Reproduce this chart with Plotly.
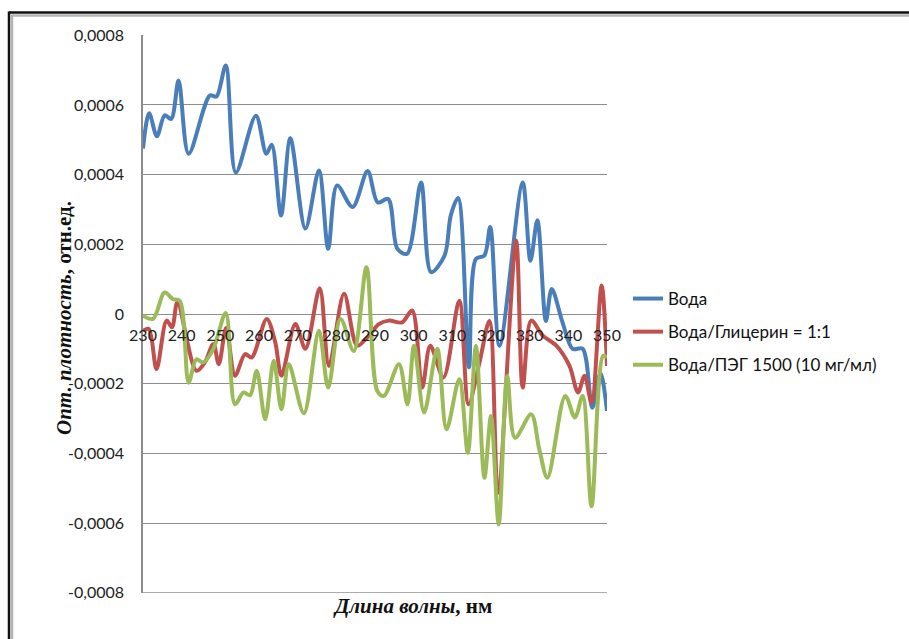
import plotly.graph_objects as go

# Wavelength (nm) and optical density readings for each sample
voda_x = [230, 231.6, 233.6, 235.6, 237.3, 239.2, 241.8, 247.3, 249, 251.4, 254, 259.2,
          261.9, 263.3, 265.7, 268.1, 272, 275.5, 277.9, 280.2, 284.2, 288.1, 290.7,
          293.4, 295.8, 298.3, 301.9, 304.5, 308, 309.6, 311.5, 314.3, 316.1, 318.3,
          319.8, 322.2, 328.2, 330.2, 332, 334.2, 335.7, 338.5, 341.1, 343.7, 346.2,
          348.3, 350]
voda_y = [0.000475, 0.000576, 0.00051, 0.00057, 0.00056, 0.00067, 0.00046, 0.000627,
          0.000624, 0.000713, 0.000406, 0.000569, 0.00046, 0.000486, 0.000283, 0.000504,
          0.000245, 0.000412, 0.000187, 0.000369, 0.000307, 0.00041, 0.00032, 0.00033,
          0.000187, 0.000173, 0.000377, 0.00012, 0.000168, 0.000283, 0.000333, -0.000153,
          0.000158, 0.000168, 0.00025, -0.000091, 0.000377, 0.000153, 0.000269, -0.00002,
          0.000072, -0.000024, -0.0001, -0.0001, -0.000269, -0.00017, -0.000278]

glic_x = [230, 231.5, 233.5, 236.1, 237.5, 238.9, 243.8, 246, 248.2, 249.6, 251.5, 253.8,
          256.4, 258.1, 262, 264.2, 265.8, 269.4, 272, 275.7, 278.1, 282, 285.4, 288.4,
          291, 293.6, 297, 299.6, 302.2, 304.3, 307.7, 311.8, 314.2, 317, 319.6, 321.8,
          326.5, 328.2, 330.4, 333.4, 336.9, 340.3, 342.5, 344.2, 346, 348.6, 350]
glic_y = [-0.000048, -0.000043, -0.000158, -0.000019, -0.000038, 0.000034, -0.000163,
          -0.000139, -0.000086, -0.000144, -0.00004, -0.000177, -0.000115, -0.000125,
          -0.000014, -0.000081, -0.000177, -0.000029, -0.0001, 0.000074, -0.000149,
          0.000058, -0.000091, -0.000062, -0.000029, -0.000019, -0.000024, 0.00001,
          -0.000211, -0.000091, -0.000182, 0.000038, -0.000259, -0.00014, -0.00002,
          -0.000513, 0.000211, -0.000211, -0.000019, -0.000062, -0.000091, -0.000149,
          -0.000225, -0.000177, -0.000254, 0.000082, -0.000149]

peg_x = [230, 232.6, 235.6, 237.7, 239.5, 241.8, 243.8, 245.6, 248.2, 251.4, 253.8, 256,
         257.7, 259.4, 261.6, 263.8, 265.8, 267.7, 271.6, 275.5, 277.9, 281.1, 284.5,
         287.8, 290.6, 292.3, 296.2, 298.4, 300.1, 302.7, 306.1, 308.5, 311.8, 314,
         316.1, 318.3, 320, 322, 324.2, 326.2, 330.4, 332.5, 334.6, 339.2, 341.7, 343.7,
         346, 349, 350]
peg_y = [-0.000005, -0.000014, 0.000062, 0.000043, 0.000038, -0.000197, -0.00013,
         -0.000139, -0.0001, 0.000003, -0.000259, -0.000225, -0.000233, -0.000163,
         -0.000302, -0.000134, -0.000273, -0.000144, -0.000285, -0.000048, -0.000211,
         -0.000014, -0.000106, 0.000134, -0.000221, -0.000235, -0.000144, -0.000259,
         -0.000091, -0.000283, -0.0001, -0.000331, -0.000187, -0.000398, -0.000091,
         -0.00047, -0.000293, -0.000604, -0.000177, -0.000355, -0.000288, -0.000389,
         -0.00047, -0.000235, -0.000297, -0.000235, -0.000552, -0.00012, -0.000125]

series_names = ["Вода", "Вода/Глицерин = 1:1", "Вода/ПЭГ 1500 (10 мг/мл)"]
series_colors = ["#4A7EBB", "#C0504D", "#9BBB59"]

x_ticks = list(range(230, 351, 10))
y_ticks = [0.0008, 0.0006, 0.0004, 0.0002, 0, -0.0002, -0.0004, -0.0006, -0.0008]
y_tick_text = ["0,0008", "0,0006", "0,0004", "0,0002", "0",
               "-0,0002", "-0,0004", "-0,0006", "-0,0008"]

W, H = 909, 639
L, R, T, B = 143, 302, 35, 46
PW, PH = W - L - R, H - T - B


def px_x(p):
    return (p - L) / PW


def px_y(p):
    return (H - B - p) / PH


fig = go.Figure()
for i, (xs, ys) in enumerate([(voda_x, voda_y), (glic_x, glic_y), (peg_x, peg_y)]):
    fig.add_trace(go.Scatter(
        x=xs, y=ys, mode="lines", name=series_names[i],
        legendgroup=f"g{i}",
        line=dict(color=series_colors[i], width=4, shape="spline", smoothing=0.9),
    ))

tick_font = dict(family="Lato, 'Open Sans', sans-serif", size=16, color="#222222")
serif = "'Liberation Serif', 'Times New Roman', serif"
grid_color = "#8C8C8C"

fig.update_layout(
    width=W, height=H,
    margin=dict(l=L, r=R, t=T, b=B, pad=0),
    paper_bgcolor="white",
    plot_bgcolor="white",
    showlegend=True,
    legend=dict(
        x=px_x(628), y=px_y(281), xanchor="left", yanchor="top",
        font=dict(family="Lato, 'Open Sans', sans-serif", size=17, color="#111111"),
        tracegroupgap=8, itemwidth=30, bgcolor="rgba(0,0,0,0)",
    ),
    xaxis=dict(
        range=[230, 350], tickvals=x_ticks, ticktext=[str(v) for v in x_ticks],
        anchor="free", position=0.5, showgrid=False, zeroline=False,
        showline=False, ticks="", tickfont=tick_font, ticklabelstandoff=10,
    ),
    yaxis=dict(
        range=[-0.0008006, 0.0008006], tickvals=y_ticks, ticktext=y_tick_text,
        showgrid=True, gridcolor=grid_color, gridwidth=1, zeroline=False,
        showline=True, linecolor=grid_color, linewidth=1.5, ticks="",
        tickfont=tick_font, ticklabelstandoff=14,
    ),
    annotations=[
        dict(text="<b><i>Опт. плотность</i>, отн.ед.</b>", xref="paper", yref="paper",
             x=px_x(50), y=px_y(318), textangle=-90, showarrow=False,
             font=dict(family=serif, size=21, color="#111111")),
        dict(text="<b><i>Длина волны</i>, нм</b>", xref="paper", yref="paper",
             x=px_x(412), y=px_y(620), showarrow=False,
             font=dict(family=serif, size=21, color="#111111")),
    ],
    shapes=[
        # lowest horizontal gridline along the bottom of the plot area
        dict(type="line", xref="x", yref="y", x0=230, x1=350,
             y0=y_ticks[-1], y1=y_ticks[-1], layer="below",
             line=dict(color=grid_color, width=1)),
        # outer frame: dark edge with a grey inner edge
        dict(type="line", xref="paper", yref="paper", x0=px_x(9), x1=px_x(930),
             y0=px_y(12.5), y1=px_y(12.5), line=dict(color="#111111", width=2.5)),
        dict(type="line", xref="paper", yref="paper", x0=px_x(12), x1=px_x(930),
             y0=px_y(15.5), y1=px_y(15.5), line=dict(color="#B4B4B4", width=2.5)),
        dict(type="line", xref="paper", yref="paper", x0=px_x(9), x1=px_x(9),
             y0=px_y(11.5), y1=px_y(660), line=dict(color="#111111", width=2.5)),
        dict(type="line", xref="paper", yref="paper", x0=px_x(12), x1=px_x(12),
             y0=px_y(14.5), y1=px_y(660), line=dict(color="#B4B4B4", width=2.5)),
    ],
)

fig.write_html("out.html")
